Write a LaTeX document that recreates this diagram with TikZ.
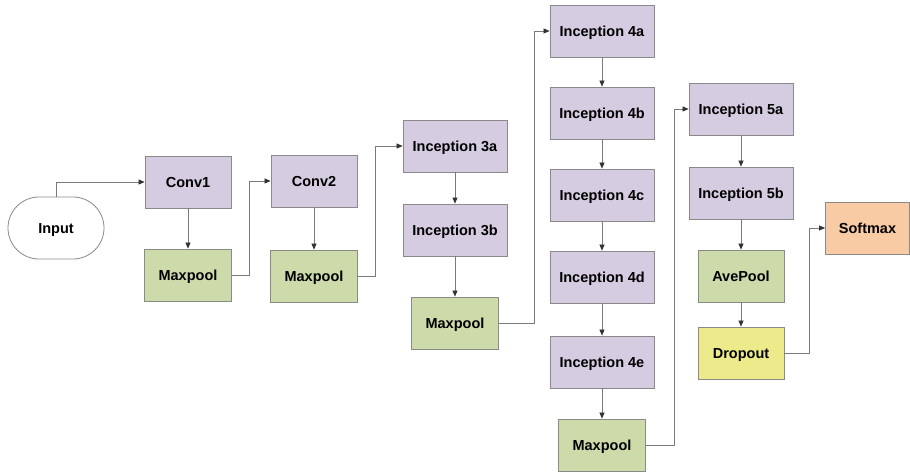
\documentclass[tikz,border=0pt]{standalone}
\usepackage{fontspec}
\setmainfont{Liberation Sans}
\usetikzlibrary{arrows.meta,shapes.misc}
\definecolor{incep}{HTML}{D5CCE1}
\definecolor{pool}{HTML}{CDDBAA}
\definecolor{drop}{HTML}{EDEA8B}
\definecolor{soft}{HTML}{F8CBA5}
\definecolor{edgegray}{HTML}{8A8A8A}
\definecolor{linegray}{HTML}{7A7A7A}
\tikzset{
  blk/.style={draw=edgegray, line width=0.8pt, minimum height=52pt, inner sep=0pt,
    text height=10.4pt, text depth=0pt,
    font=\fontsize{14.5}{16}\selectfont\bfseries, text=black},
  inc/.style={blk, fill=incep, minimum width=104pt},
  conv/.style={blk, fill=incep, minimum width=86pt},
  pl/.style={blk, fill=pool, minimum width=87pt},
  dp/.style={blk, fill=drop, minimum width=86pt},
  sm/.style={blk, fill=soft, minimum width=84pt},
  inp/.style={blk, fill=white, rounded rectangle, minimum width=96pt, minimum height=62pt},
  conn/.style={draw=linegray, line width=0.7pt, -{Triangle[length=6pt,width=5pt,color=black!80]}}
}
\begin{document}
\begin{tikzpicture}[x=1pt,y=-1pt]
\useasboundingbox (0,0) rectangle (910,473);
\node[inp] (in) at (56,228) {Input};
\node[conv] (c1) at (188,182) {Conv1};
\node[pl] (m1) at (188,275) {Maxpool};
\node[conv] (c2) at (314,181) {Conv2};
\node[pl] (m2) at (314,276) {Maxpool};
\node[inc] (i3a) at (455,146) {Inception 3a};
\node[inc] (i3b) at (455,230) {Inception 3b};
\node[pl] (m3) at (455,323) {Maxpool};
\node[inc] (i4a) at (602,31) {Inception 4a};
\node[inc] (i4b) at (602,113) {Inception 4b};
\node[inc] (i4c) at (602,195) {Inception 4c};
\node[inc] (i4d) at (602,277) {Inception 4d};
\node[inc] (i4e) at (602,362) {Inception 4e};
\node[pl] (m4) at (602,445) {Maxpool};
\node[inc] (i5a) at (741,109) {Inception 5a};
\node[inc] (i5b) at (741,193) {Inception 5b};
\node[pl, minimum width=86pt] (ap) at (741,276) {AvePool};
\node[dp] (dr) at (741,353) {Dropout};
\node[sm] (sf) at (867.5,228) {Softmax};

\draw[conn] (in.north) |- (c1.west);
\draw[conn] (c1) -- (m1);
\draw[conn] (m1.east) -- ++(17,0) |- (c2.west);
\draw[conn] (c2) -- (m2);
\draw[conn] (m2.east) -- ++(17,0) |- (i3a.west);
\draw[conn] (i3a) -- (i3b);
\draw[conn] (i3b) -- (m3);
\draw[conn] (m3.east) -- ++(35,0) |- (i4a.west);
\draw[conn] (i4a) -- (i4b);
\draw[conn] (i4b) -- (i4c);
\draw[conn] (i4c) -- (i4d);
\draw[conn] (i4d) -- (i4e);
\draw[conn] (i4e) -- (m4);
\draw[conn] (m4.east) -- ++(28,0) |- (i5a.west);
\draw[conn] (i5a) -- (i5b);
\draw[conn] (i5b) -- (ap);
\draw[conn] (ap) -- (dr);
\draw[conn] (dr.east) -- ++(25,0) |- (sf.west);
\end{tikzpicture}
\end{document}
